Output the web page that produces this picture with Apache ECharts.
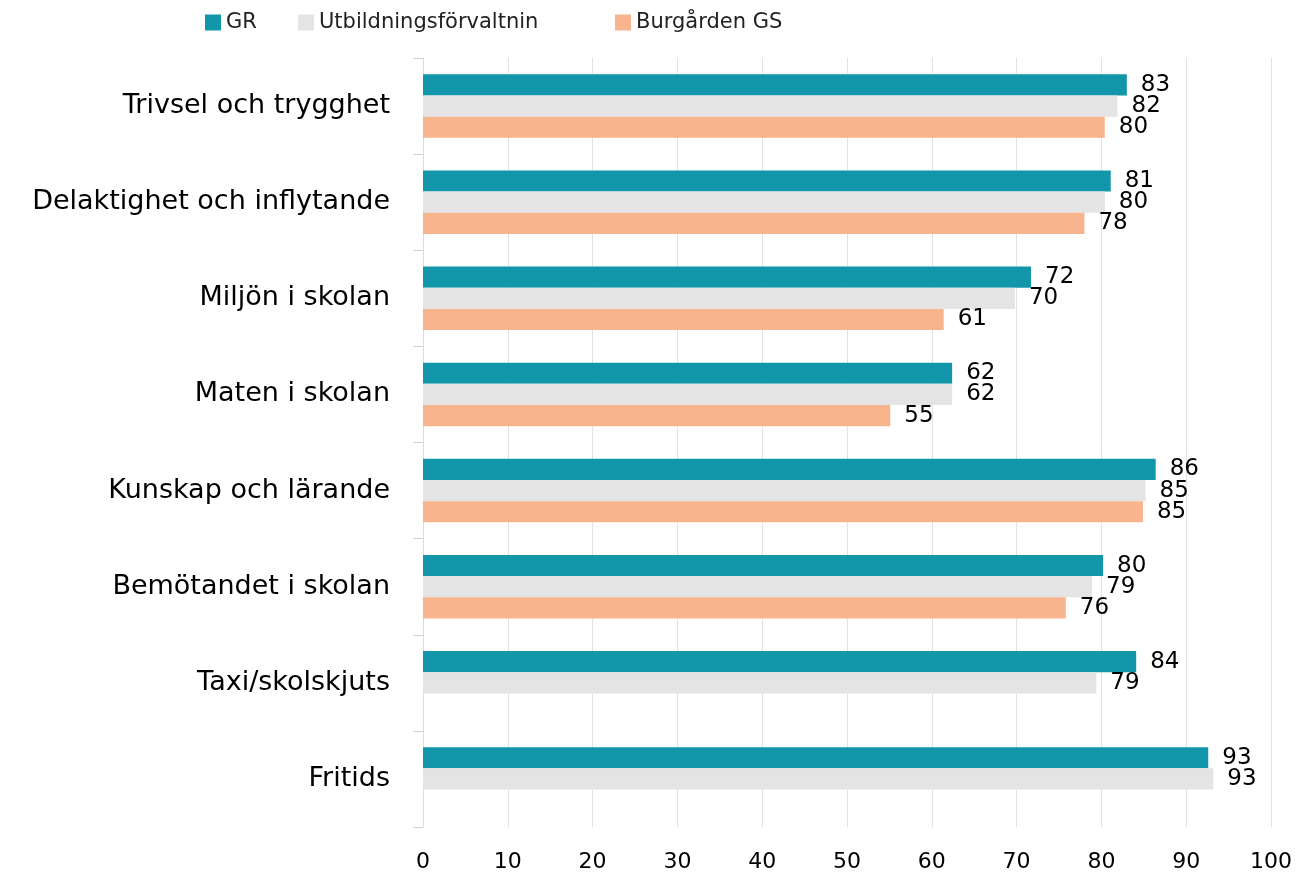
<!DOCTYPE html>
<html>
<head>
<meta charset="utf-8">
<script src="https://cdn.jsdelivr.net/npm/echarts@6/dist/echarts.min.js"></script>
<style>
html,body{margin:0;padding:0;background:#fff;}
#main{width:1302px;height:874px;}
</style>
</head>
<body>
<div id="main"></div>
<script>
// categories top to bottom
var categories = ['Trivsel och trygghet', 'Delaktighet och inflytande', 'Miljön i skolan', 'Maten i skolan',
	'Kunskap och lärande', 'Bemötandet i skolan', 'Taxi/skolskjuts', 'Fritids'];

var seriesNames = ['GR', 'Utbildningsförvaltnin', 'Burgården GS'];

var grValues = [83.0, 81.1, 71.7, 62.4, 86.4, 80.2, 84.1, 92.6];
var utbValues = [81.9, 80.4, 69.8, 62.4, 85.2, 78.9, 79.4, 93.2];
var burgValues = [80.4, 78.0, 61.4, 55.1, 84.9, 75.8, null, null];

var xTicks = [0, 10, 20, 30, 40, 50, 60, 70, 80, 90, 100];

var colors = ['#1197a9', '#e4e4e4', '#f8b48c'];
var font = 'DejaVu Sans';

var myChart = echarts.init(document.getElementById('main'), null, {renderer: 'canvas'});

function makeSeries(name, data, color) {
	return {
		name: name,
		type: 'bar',
		data: data,
		barGap: '0%',
		barCategoryGap: '34%',
		itemStyle: {color: color},
		label: {
			show: true,
			position: 'right',
			distance: 14,
			color: '#000',
			fontFamily: font,
			fontSize: 23,
			formatter: function (p) { return Math.round(p.value); }
		}
	};
}

// one legend per item so each icon sits where it does in the original
var legendLefts = [205, 298, 615];
var legends = seriesNames.map(function (n, i) {
	return {
		left: legendLefts[i],
		top: 12,
		padding: 0,
		itemWidth: 16,
		itemHeight: 16,
		icon: 'rect',
		textStyle: {fontSize: 21, color: '#222', fontFamily: font},
		data: [n]
	};
});

var option = {
	animation: false,
	color: colors,
	textStyle: {fontFamily: font},
	legend: legends,
	grid: {left: 423, right: 31, top: 58, bottom: 47, containLabel: false},
	xAxis: {
		type: 'value',
		min: xTicks[0],
		max: xTicks[xTicks.length - 1],
		interval: 10,
		axisLine: {show: false},
		axisTick: {show: false},
		splitLine: {show: true, lineStyle: {color: '#e2e2e2', width: 1}},
		axisLabel: {fontSize: 22, color: '#000', margin: 24, fontFamily: font}
	},
	yAxis: {
		type: 'category',
		data: categories,
		inverse: true,
		axisLine: {show: true, lineStyle: {color: '#dcdcdc'}},
		axisTick: {show: true, length: 10, lineStyle: {color: '#d0d0d0'}},
		axisLabel: {fontSize: 27, color: '#000', margin: 33, fontFamily: font}
	},
	series: [
		makeSeries(seriesNames[0], grValues, colors[0]),
		makeSeries(seriesNames[1], utbValues, colors[1]),
		makeSeries(seriesNames[2], burgValues, colors[2])
	]
};

myChart.setOption(option);
</script>
</body>
</html>
